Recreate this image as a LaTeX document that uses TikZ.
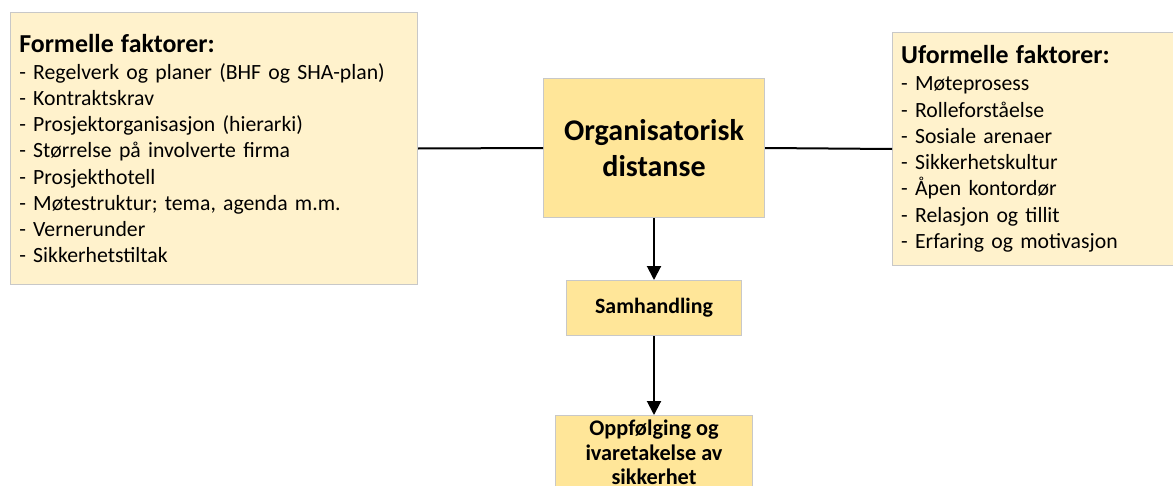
\documentclass[tikz,border=0pt]{standalone}
\usepackage{fontspec}
\setmainfont{Carlito}
\usetikzlibrary{arrows.meta}

\definecolor{lysgul}{HTML}{FFF2CC}
\definecolor{gul}{HTML}{FFE699}
\definecolor{kant}{HTML}{C8C8C8}

\tikzset{
  faktorboks/.style={draw=kant, fill=lysgul, line width=0.75pt, anchor=north west,
    align=left, inner xsep=6pt, font=\fontsize{16.3}{19.7}\selectfont},
  hovedboks/.style={draw=kant, fill=gul, line width=0.75pt, anchor=north west,
    align=center, inner sep=2pt},
  pil/.style={-{Triangle[width=10.5pt,length=10.5pt]}, line width=1.5pt},
  strek/.style={line width=1.5pt},
}

\begin{document}
\begin{tikzpicture}[x=0.75pt, y=-0.75pt]
  \clip (0,0) rectangle (1173,485);
  \fill[white] (0,0) rectangle (1173,485);

  % faktorer paa hver side
  \node[faktorboks, minimum width=305.25pt, minimum height=204pt, text width=292pt]
    (formell) at (10,12) {{\fontsize{19.4}{21}\selectfont\bfseries Formelle faktorer:}\\[0.5pt]
    - Regelverk og planer (BHF og SHA-plan)\\
    - Kontraktskrav\\
    - Prosjektorganisasjon (hierarki)\\
    - Størrelse på involverte firma\\
    - Prosjekthotell\\
    - Møtestruktur; tema, agenda m.m.\\
    - Vernerunder\\
    - Sikkerhetstiltak};
  \node[faktorboks, minimum width=225pt, minimum height=174.75pt, text width=212pt]
    (uformell) at (892,32) {{\fontsize{19.4}{21}\selectfont\bfseries Uformelle faktorer:}\\[0.5pt]
    - Møteprosess\\
    - Rolleforståelse\\
    - Sosiale arenaer\\
    - Sikkerhetskultur\\
    - Åpen kontordør\\
    - Relasjon og tillit\\
    - Erfaring og motivasjon};

  % midten
  \node[hovedboks, minimum width=165.75pt, minimum height=104.25pt,
    font=\fontsize{22.5}{26.5}\selectfont\bfseries]
    (distanse) at (543,78) {Organisatorisk\\distanse};
  \node[hovedboks, minimum width=131.25pt, minimum height=41.25pt,
    font=\fontsize{16.4}{19}\selectfont\bfseries]
    (samhandling) at (566,280) {Samhandling};
  \node[hovedboks, minimum width=147.75pt, minimum height=55.5pt,
    font=\fontsize{16.7}{18.4}\selectfont\bfseries]
    (sikkerhet) at (555,415) {Oppfølging og\\ivaretakelse av\\sikkerhet};

  \draw[strek] (formell.east) -- (distanse.west);
  \draw[strek] (distanse.east) -- (uformell.west);
  \draw[pil] (distanse) -- (samhandling);
  \draw[pil] (samhandling) -- (sikkerhet);
\end{tikzpicture}
\end{document}
